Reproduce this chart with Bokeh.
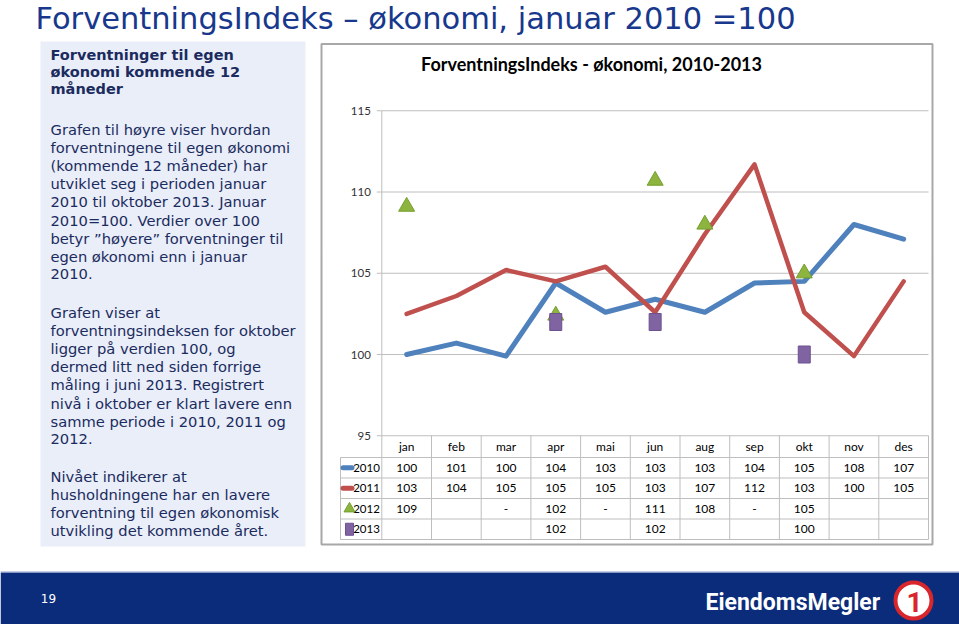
import math
from bokeh.plotting import figure
from bokeh.models import Range1d
from bokeh.core.properties import value
from bokeh.embed import file_html
from bokeh.resources import INLINE

# ---------------- data ----------------
months = ["jan", "feb", "mar", "apr", "mai", "jun", "aug", "sep", "okt", "nov", "des"]
years = ["2010", "2011", "2012", "2013"]
idx_2010 = [100.0, 100.7, 99.9, 104.4, 102.6, 103.4, 102.6, 104.4, 104.5, 108.0, 107.1]
idx_2011 = [102.5, 103.6, 105.2, 104.5, 105.4, 102.6, 107.4, 111.7, 102.6, 99.9, 104.5]
idx_2012 = [109.1, None, None, 102.4, None, 110.7, 108.0, None, 105.0, None, None]
idx_2013 = [None, None, None, 102.0, None, 102.0, None, None, 100.0, None, None]
y_ticks = [95, 100, 105, 110, 115]
tbl_2010 = ["100", "101", "100", "104", "103", "103", "103", "104", "105", "108", "107"]
tbl_2011 = ["103", "104", "105", "105", "105", "103", "107", "112", "103", "100", "105"]
tbl_2012 = ["109", "", "-", "102", "-", "111", "108", "-", "105", "", ""]
tbl_2013 = ["", "", "", "102", "", "102", "", "", "100", "", ""]

slide_title = "ForventningsIndeks \u2013 \u00f8konomi, januar 2010 =100"
chart_title = "ForventningsIndeks - \u00f8konomi, 2010-2013"
heading = ["Forventninger til egen", "\u00f8konomi kommende 12", "m\u00e5neder"]
para1 = ["Grafen til h\u00f8yre viser hvordan", "forventningene til egen \u00f8konomi",
         "(kommende 12 m\u00e5neder) har", "utviklet seg i perioden januar",
         "2010 til oktober 2013. Januar", "2010=100. Verdier over 100",
         "betyr \u201dh\u00f8yere\u201d forventninger til", "egen \u00f8konomi enn i januar", "2010."]
para2 = ["Grafen viser at", "forventningsindeksen for oktober", "ligger p\u00e5 verdien 100, og",
         "dermed litt ned siden forrige", "m\u00e5ling i juni 2013. Registrert",
         "niv\u00e5 i oktober er klart lavere enn", "samme periode i 2010, 2011 og", "2012."]
para3 = ["Niv\u00e5et indikerer at", "husholdningene har en lavere",
         "forventning til egen \u00f8konomisk", "utvikling det kommende \u00e5ret."]
page_no = "19"
logo_text = "EiendomsMegler"

# ---------------- figure (page pixel coordinates) ----------------
PW, PH = 959, 624
p = figure(width=PW, height=PH, output_backend="svg", toolbar_location=None,
           x_range=Range1d(0, PW), y_range=Range1d(PH, 0),
           x_axis_location=None, y_axis_location=None, min_border=0,
           outline_line_color=None, background_fill_color="white")
p.grid.visible = False

COL_L, COL_W = 381.3, 49.7
Y100, PPU = 354.0, 16.25
p.extra_x_ranges = {"m": Range1d((0 - COL_L) / COL_W, (PW - COL_L) / COL_W)}
p.extra_y_ranges = {"v": Range1d(100 - (PH - Y100) / PPU, 100 + Y100 / PPU)}

NAVY = "#1B2B5E"
BODY_FONT = value("DejaVu Sans")
CH_FONT = value("Lato")

# slide title
p.text(x=[35], y=[17.5], text=[slide_title], text_font=BODY_FONT, text_font_size="30.5px",
       text_color="#17388C", text_align="left", text_baseline="alphabetic")

# left panel
p.quad(left=[40], right=[305], top=[41], bottom=[546], fill_color="#E9EEF9", line_color=None)
p.text(x=[50] * len(heading), y=[54.5 + 17 * i for i in range(len(heading))], text=heading,
       text_font=BODY_FONT, text_font_size="14.5px", text_font_style="bold",
       text_color=NAVY, text_baseline="alphabetic")
for start, lines in ((129.0, para1), (312.0, para2), (475.5, para3)):
    p.text(x=[50] * len(lines), y=[start + 18.1 * i for i in range(len(lines))], text=lines,
           text_font=BODY_FONT, text_font_size="14.7px", text_color=NAVY,
           text_baseline="alphabetic")

# chart box
p.quad(left=[321], right=[932], top=[43.5], bottom=[544], fill_color="white",
       line_color="#A8A8A8", line_width=2)
p.text(x=[591], y=[63], text=[chart_title], text_font=CH_FONT, text_font_size="18px",
       text_font_style="bold", text_color="black", text_align="center", text_baseline="middle")

GRID = "#BEBEBE"
n = len(months)
# gridlines and y ticks
p.segment(x0=[0] * len(y_ticks), x1=[n] * len(y_ticks), y0=y_ticks, y1=y_ticks,
          x_range_name="m", y_range_name="v", line_color=GRID, line_width=1)
p.segment(x0=[-0.1] * len(y_ticks), x1=[0] * len(y_ticks), y0=y_ticks, y1=y_ticks,
          x_range_name="m", y_range_name="v", line_color=GRID, line_width=1)
p.segment(x0=[0], x1=[0], y0=[min(y_ticks)], y1=[max(y_ticks)],
          x_range_name="m", y_range_name="v", line_color=GRID, line_width=1)
p.text(x=[-0.22] * len(y_ticks), y=y_ticks, text=[str(t) for t in y_ticks],
       x_range_name="m", y_range_name="v", text_font=CH_FONT, text_font_size="11.5px",
       text_color="#333333", text_align="right", text_baseline="middle")

# data table
HDR_Y = 446
ROW_EDGES = [457, 477.5, 498, 518.5, 539]
ROW_C = [(ROW_EDGES[i] + ROW_EDGES[i + 1]) / 2 for i in range(4)]
LBL_L = (340 - COL_L) / COL_W
p.segment(x0=list(range(n + 1)), x1=list(range(n + 1)), y0=[435] * (n + 1), y1=[539] * (n + 1),
          x_range_name="m", line_color=GRID, line_width=1)
p.segment(x0=[LBL_L] * len(ROW_EDGES), x1=[n] * len(ROW_EDGES), y0=ROW_EDGES, y1=ROW_EDGES,
          x_range_name="m", line_color=GRID, line_width=1)
p.segment(x0=[LBL_L], x1=[LBL_L], y0=[457], y1=[539], x_range_name="m",
          line_color=GRID, line_width=1)
xc = [i + 0.5 for i in range(n)]
p.text(x=xc, y=[HDR_Y] * n, text=months, x_range_name="m", text_font=CH_FONT,
       text_font_size="12px", text_color="black", text_align="center", text_baseline="middle")
for r, row in enumerate((tbl_2010, tbl_2011, tbl_2012, tbl_2013)):
    p.text(x=xc, y=[ROW_C[r]] * n, text=row, x_range_name="m", text_font=CH_FONT,
           text_font_size="12px", text_color="black", text_align="center",
           text_baseline="middle")
p.text(x=[-0.04] * 4, y=ROW_C, text=years, x_range_name="m", text_font=CH_FONT,
       text_font_size="11.5px", text_color="black", text_align="right", text_baseline="middle")
# legend keys
p.segment(x0=[-0.78] * 2, x1=[-0.6] * 2, y0=ROW_C[:2], y1=ROW_C[:2], x_range_name="m",
          line_color=["#4F81BD", "#C0504D"], line_width=5, line_cap="round")
p.scatter(x=[-0.65], y=[ROW_C[2]], x_range_name="m", marker="triangle", size=11,
          fill_color="#8CB43E", line_color="#74A02E")
p.rect(x=[-0.65], y=[ROW_C[3]], width=8, height=12, width_units="screen",
       height_units="screen", x_range_name="m", fill_color="#8064A2", line_color="#6C5090")

# series
p.line(x=xc, y=idx_2010, x_range_name="m", y_range_name="v", line_color="#4F81BD",
       line_width=5, line_join="round", line_cap="round")
p.line(x=xc, y=idx_2011, x_range_name="m", y_range_name="v", line_color="#C0504D",
       line_width=4.5, line_join="round", line_cap="round")
x12 = [xc[i] for i, v in enumerate(idx_2012) if v is not None]
y12 = [v for v in idx_2012 if v is not None]
p.scatter(x=x12, y=y12, x_range_name="m", y_range_name="v", marker="triangle", size=16,
          fill_color="#8CB43E", line_color="#74A02E", line_width=1)
x13 = [xc[i] for i, v in enumerate(idx_2013) if v is not None]
y13 = [v for v in idx_2013 if v is not None]
p.rect(x=x13, y=y13, width=12, height=17, width_units="screen", height_units="screen",
       x_range_name="m", y_range_name="v", fill_color="#8064A2", line_color="#6C5090")

# footer
p.quad(left=[0], right=[PW], top=[572], bottom=[PH], fill_color="#0B2C7A", line_color=None)
p.segment(x0=[0], x1=[PW], y0=[571.5], y1=[571.5], line_color="#8A9CC4", line_width=1)
p.text(x=[48], y=[598], text=[page_no], text_font=BODY_FONT, text_font_size="12px",
       text_color="white", text_align="center", text_baseline="middle")
p.text(x=[705], y=[602], text=[logo_text], text_font=value("Roboto"), text_font_size="23px",
       text_font_style="bold", text_color="white", text_align="left", text_baseline="middle")
p.scatter(x=[913], y=[600], marker="circle", size=36, fill_color="white",
          line_color="#D8262C", line_width=4)
p.text(x=[914], y=[601], text=["1"], text_font=value("Roboto"), text_font_size="28px",
       text_font_style="bold", text_color="#D8262C", text_align="center",
       text_baseline="middle")

open("out.html", "w").write(file_html(p, INLINE))
